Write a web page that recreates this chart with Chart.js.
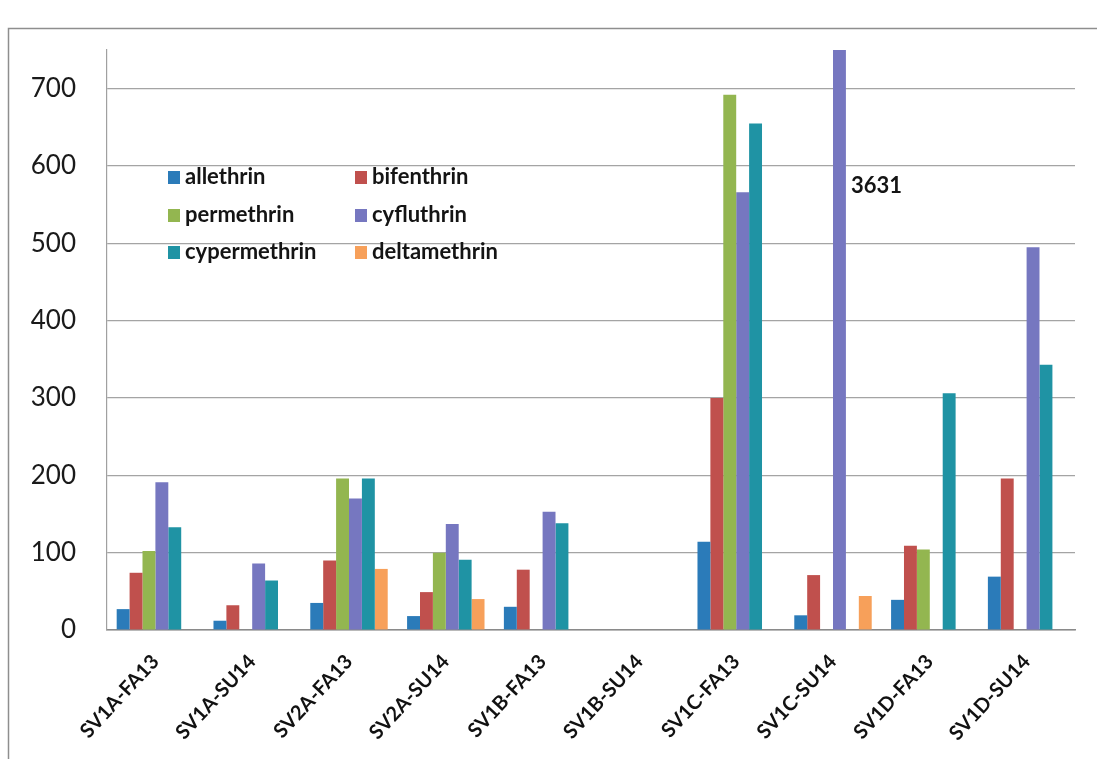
<!DOCTYPE html>
<html>
<head>
<meta charset="utf-8">
<title>Pyrethroid concentrations by site and season</title>
<script src="https://cdn.jsdelivr.net/npm/chart.js@4.4.1/dist/chart.umd.min.js"></script>
<style>
  html, body { margin: 0; padding: 0; background: #ffffff; }
  #wrap { position: relative; width: 1097px; height: 759px; }
</style>
</head>
<body>
<div id="wrap"><canvas id="chart" width="1097" height="759"></canvas></div>
<script>
// Sampling sites / seasons
const categories = ['SV1A-FA13', 'SV1A-SU14', 'SV2A-FA13', 'SV2A-SU14', 'SV1B-FA13',
                    'SV1B-SU14', 'SV1C-FA13', 'SV1C-SU14', 'SV1D-FA13', 'SV1D-SU14'];

// Concentration of each pyrethroid per sample
const allethrin    = [27, 12, 35, 18, 30, 0, 114, 19, 39, 69];
const bifenthrin   = [74, 32, 90, 49, 78, 0, 300, 71, 109, 196];
const permethrin   = [102, 0, 196, 100, 0, 0, 692, 0, 104, 0];
const cyfluthrin   = [191, 86, 170, 137, 153, 0, 566, 3631, 0, 495];
const cypermethrin = [133, 64, 196, 91, 138, 0, 655, 0, 306, 343];
const deltamethrin = [0, 0, 79, 40, 0, 0, 0, 44, 0, 0];

// Y axis
const yTicks = [0, 100, 200, 300, 400, 500, 600, 700];
const yMax = 750;

const seriesNames  = ['allethrin', 'bifenthrin', 'permethrin', 'cyfluthrin', 'cypermethrin', 'deltamethrin'];
const seriesValues = [allethrin, bifenthrin, permethrin, cyfluthrin, cypermethrin, deltamethrin];
const seriesColors = ['#2b7bb9', '#c0504d', '#93b650', '#7677c0', '#1f93a4', '#f7a05a'];

const FONT = 'Lato, "Open Sans", "DejaVu Sans", sans-serif';

// White page with a thin grey frame around the chart
const framePlugin = {
  id: 'frame',
  beforeDraw(chart) {
    const ctx = chart.ctx;
    ctx.save();
    ctx.fillStyle = '#ffffff';
    ctx.fillRect(0, 0, chart.width, chart.height);
    ctx.strokeStyle = '#8e8e8e';
    ctx.lineWidth = 1.5;
    ctx.strokeRect(8.5, 28.5, chart.width + 20, chart.height);
    ctx.restore();
  }
};

// Two-column legend drawn inside the plot area
const gridLegendPlugin = {
  id: 'gridLegend',
  afterDatasetsDraw(chart) {
    const ctx = chart.ctx;
    const area = chart.chartArea;
    const colX = [area.left + 61, area.left + 248];
    const rowY = [area.top + 127, area.top + 165, area.top + 202];
    ctx.save();
    ctx.font = 'bold 22px ' + FONT;
    ctx.textBaseline = 'middle';
    ctx.textAlign = 'left';
    chart.data.datasets.forEach((ds, i) => {
      const x = colX[i % 2];
      const y = rowY[Math.floor(i / 2)];
      ctx.fillStyle = ds.backgroundColor;
      ctx.fillRect(x, y - 6, 12, 13);
      ctx.fillStyle = '#141414';
      ctx.fillText(ds.label, x + 17, y);
    });
    ctx.restore();
  }
};

// Value note beside any bar that runs past the top of the axis
const overflowLabelPlugin = {
  id: 'overflowLabel',
  afterDatasetsDraw(chart) {
    const ctx = chart.ctx;
    const area = chart.chartArea;
    const yScale = chart.scales.y;
    ctx.save();
    ctx.font = 'bold 22px ' + FONT;
    ctx.fillStyle = '#141414';
    ctx.textAlign = 'left';
    ctx.textBaseline = 'middle';
    chart.data.datasets.forEach((ds, di) => {
      const meta = chart.getDatasetMeta(di);
      ds.data.forEach((v, i) => {
        if (v > yScale.max) {
          const bar = meta.data[i];
          const right = bar.x + bar.width / 2;
          ctx.fillText(String(v), right + 5, area.top + 136);
        }
      });
    });
    ctx.restore();
  }
};

new Chart(document.getElementById('chart'), {
  type: 'bar',
  data: {
    labels: categories,
    datasets: seriesNames.map((name, i) => ({
      label: name,
      data: seriesValues[i],
      backgroundColor: seriesColors[i],
      borderWidth: 0,
      categoryPercentage: 0.8,
      barPercentage: 1.0
    }))
  },
  options: {
    responsive: false,
    animation: false,
    devicePixelRatio: 1,
    layout: { padding: { top: 50, right: 22, left: 0, bottom: 0 } },
    plugins: {
      legend: { display: false },
      tooltip: { enabled: false }
    },
    scales: {
      x: {
        grid: { display: false, drawTicks: false },
        border: { display: true, color: '#8a8a8a', width: 1.5 },
        ticks: {
          color: '#111111',
          font: { family: FONT, size: 20, weight: 'bold' },
          minRotation: 47,
          maxRotation: 47,
          padding: 20
        },
        afterFit(scale) { scale.height = 129; }
      },
      y: {
        min: 0,
        max: yMax,
        grid: { color: '#a4a4a4', lineWidth: 1.2, drawTicks: false },
        border: { display: true, color: '#a0a0a0', width: 1.2 },
        ticks: {
          stepSize: 100,
          color: '#1a1a1a',
          font: { family: FONT, size: 26 },
          padding: 31
        },
        afterBuildTicks(scale) {
          scale.ticks = yTicks.map(v => ({ value: v }));
        },
        afterFit(scale) { scale.width = 107; }
      }
    }
  },
  plugins: [framePlugin, gridLegendPlugin, overflowLabelPlugin]
});
</script>
</body>
</html>
